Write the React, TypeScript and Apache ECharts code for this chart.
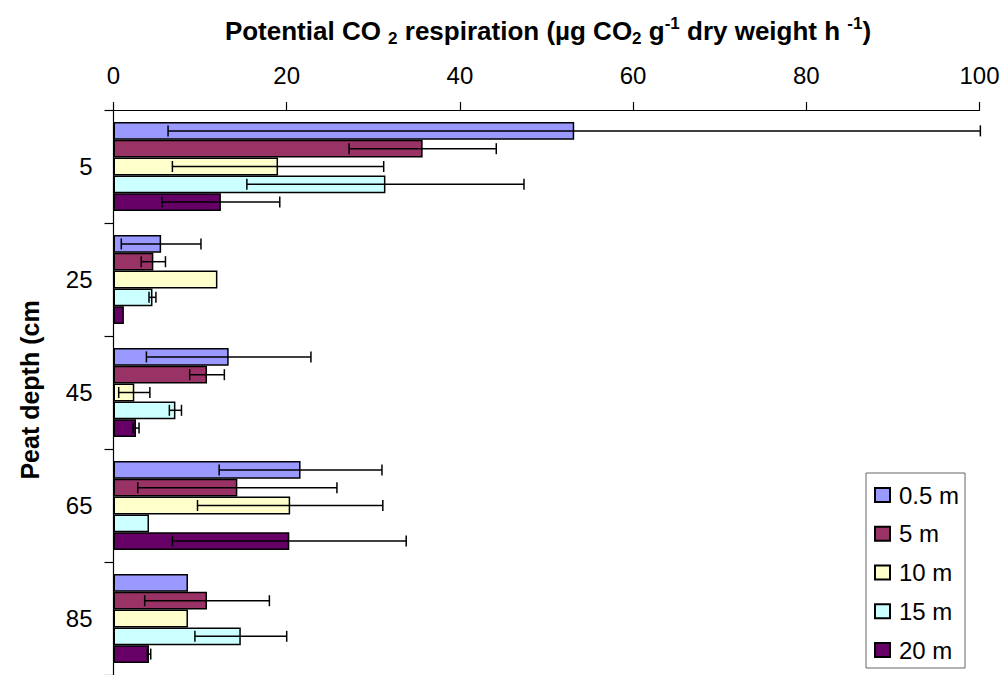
import React, { useEffect, useRef } from "react";
import * as echarts from "echarts";

const categories = ["5", "25", "45", "65", "85"];
const seriesNames = ["0.5 m", "5 m", "10 m", "15 m", "20 m"];
const colors = ["#9999FF", "#993366", "#FFFFCC", "#CCFFFF", "#660066"];

// values per series (order of categories: 5, 25, 45, 65, 85 cm)
const v05 = [53.2, 5.5, 13.3, 21.6, 8.6];
const v5 = [35.7, 4.6, 10.8, 14.3, 10.8];
const v10 = [19.0, 12.0, 2.4, 20.4, 8.6];
const v15 = [31.4, 4.5, 7.15, 4.1, 14.7];
const v20 = [12.4, 1.2, 2.6, 20.3, 4.1];

// symmetric error half-widths (null = no error bar)
const e05 = [46.9, 4.6, 9.5, 9.4, null];
const e5 = [8.5, 1.4, 2.0, 11.5, 7.2];
const e10 = [12.2, null, 1.8, 10.7, null];
const e15 = [16.0, 0.4, 0.7, null, 5.3];
const e20 = [6.8, null, 0.35, 13.5, 0.2];

const xTicks = [0, 20, 40, 60, 80, 100];

const values = [v05, v5, v10, v15, v20];
const errors = [e05, e5, e10, e15, e20];

const BAR_W = 17.8;
const FONT = "Arial, 'Liberation Sans', sans-serif";

export default function App() {
  const ref = useRef<HTMLDivElement>(null);
  useEffect(() => {
    if (!ref.current) return;
    const chart = echarts.init(ref.current, undefined, { renderer: "svg" });

    const barSeries = seriesNames.map((name, i) => ({
      name,
      type: "bar",
      data: values[i],
      barWidth: BAR_W,
      barGap: "0%",
      itemStyle: { color: colors[i], borderColor: "#000", borderWidth: 1.5 },
      z: 2,
    }));

    const errSeries = seriesNames.map((name, i) => {
      const data: number[][] = [];
      values[i].forEach((v, c) => {
        const e = errors[i][c];
        if (e !== null && e !== undefined) data.push([c, v - e, v + e]);
      });
      const offset = (i - 2) * BAR_W;
      return {
        name: "err_" + name,
        type: "custom",
        data,
        encode: { y: 0, x: [1, 2] },
        z: 5,
        silent: true,
        renderItem: (params: any, api: any) => {
          const c = api.value(0);
          const lo = api.coord([api.value(1), c]);
          const hi = api.coord([api.value(2), c]);
          const y = lo[1] + offset;
          const h = 5.5;
          const st = { stroke: "#000", lineWidth: 1.5 };
          return {
            type: "group",
            children: [
              { type: "line", shape: { x1: lo[0], y1: y, x2: hi[0], y2: y }, style: st },
              { type: "line", shape: { x1: lo[0], y1: y - h, x2: lo[0], y2: y + h }, style: st },
              { type: "line", shape: { x1: hi[0], y1: y - h, x2: hi[0], y2: y + h }, style: st },
            ],
          };
        },
      };
    });

    const titleText =
      "{b|Potential CO }{sub|2}{b| respiration (µg CO}{sub|2}{b| g}{sup|-1}{b| dry weight h }{sup|-1}{b|)}";

    chart.setOption({
      animation: false,
      backgroundColor: "#fff",
      grid: { left: 113.5, top: 110, width: 866, height: 568, containLabel: false },
      xAxis: {
        type: "value",
        position: "top",
        min: xTicks[0],
        max: xTicks[xTicks.length - 1],
        interval: 20,
        axisLine: { show: true, lineStyle: { color: "#000", width: 1.2 } },
        axisTick: { show: true, length: 8, lineStyle: { color: "#000", width: 1.2 } },
        axisLabel: { color: "#000", fontSize: 24, fontFamily: FONT, margin: 23 },
        splitLine: { show: false },
      },
      yAxis: {
        type: "category",
        data: categories,
        inverse: true,
        axisLine: { show: true, lineStyle: { color: "#000", width: 1.2 } },
        axisTick: { show: true, length: 9, lineStyle: { color: "#000", width: 1.2 } },
        axisLabel: { color: "#000", fontSize: 24, fontFamily: FONT, margin: 21 },
        splitLine: { show: false },
      },
      legend: {
        orient: "vertical",
        left: 866,
        top: 473,
        data: seriesNames,
        icon: "rect",
        itemWidth: 15,
        itemHeight: 14,
        itemGap: 14.75,
        padding: [10, 6, 6, 8],
        borderColor: "#666",
        borderWidth: 1,
        backgroundColor: "#fff",
        textStyle: { color: "#000", fontSize: 24, fontFamily: FONT, lineHeight: 24, padding: [0, 0, 0, 4] },
      },
      graphic: [
        {
          type: "text",
          x: 548,
          y: 31,
          style: {
            text: titleText,
            align: "center",
            verticalAlign: "middle",
            rich: {
              b: { fontSize: 26, fontWeight: "bold", fontFamily: FONT, fill: "#000", lineHeight: 32, verticalAlign: "middle" },
              sub: { fontSize: 17, fontWeight: "bold", fontFamily: FONT, fill: "#000", lineHeight: 32, verticalAlign: "bottom" },
              sup: { fontSize: 17, fontWeight: "bold", fontFamily: FONT, fill: "#000", lineHeight: 32, verticalAlign: "top" },
            },
          },
        },
        {
          type: "text",
          x: 30,
          y: 390,
          rotation: Math.PI / 2,
          style: {
            text: "Peat depth (cm",
            align: "center",
            verticalAlign: "middle",
            fontSize: 25,
            fontWeight: "bold",
            fontFamily: FONT,
            fill: "#000",
          },
        },
      ],
      series: [...barSeries, ...errSeries],
    });
    return () => chart.dispose();
  }, []);
  return (
    <div
      ref={ref}
      style={{ position: "fixed", left: 0, top: 0, width: 1006, height: 675, background: "#fff" }}
    />
  );
}
